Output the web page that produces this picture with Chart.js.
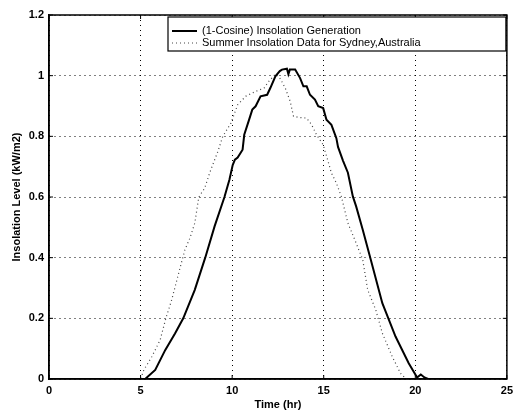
<!DOCTYPE html>
<html>
<head>
<meta charset="utf-8">
<script src="https://cdn.jsdelivr.net/npm/chart.js@4/dist/chart.umd.min.js"></script>
<style>
  body { margin: 0; background: #fff; }
  #wrap { width: 518px; height: 410px; }
</style>
</head>
<body>
<div id="wrap"><canvas id="chart" width="518" height="410"></canvas></div>
<script>
// (1-Cosine) insolation generation - time (hr) and level (kW/m2)
const cosineTime = [0, 5.25, 5.8, 6.35, 6.88, 7.33, 7.96, 8.53, 9.04, 9.58, 9.85, 10.03, 10.15, 10.3, 10.57, 10.66, 10.9, 11.1, 11.28, 11.55, 11.91, 12.09, 12.36, 12.6, 12.72, 12.99, 13.07, 13.15, 13.44, 13.71, 13.89, 14.07, 14.25, 14.52, 14.7, 14.97, 15.15, 15.42, 15.69, 15.78, 16.05, 16.32, 16.59, 16.77, 17.13, 17.57, 18.2, 18.92, 19.64, 20.1, 20.3, 20.5, 20.7, 24];
const cosineLevel = [0, 0, 0.03, 0.096, 0.15, 0.2, 0.294, 0.4, 0.503, 0.6, 0.657, 0.705, 0.723, 0.73, 0.756, 0.805, 0.85, 0.888, 0.899, 0.932, 0.937, 0.96, 0.998, 1.015, 1.02, 1.023, 1.005, 1.02, 1.02, 0.992, 0.965, 0.965, 0.937, 0.921, 0.899, 0.893, 0.855, 0.838, 0.794, 0.765, 0.72, 0.68, 0.602, 0.569, 0.492, 0.393, 0.25, 0.14, 0.052, 0.005, 0.015, 0.005, 0, 0];

// summer insolation data for Sydney
const sydneyTime = [0, 5.0, 5.18, 5.62, 6.07, 6.38, 6.7, 7.15, 7.42, 7.69, 7.96, 8.18, 8.5, 8.77, 8.9, 9.22, 9.49, 9.94, 10.3, 10.74, 11.28, 11.74, 12.0, 12.36, 12.63, 12.9, 13.17, 13.35, 13.71, 14.07, 14.34, 14.61, 14.97, 15.24, 15.42, 15.69, 15.96, 16.32, 16.77, 17.13, 17.4, 17.84, 18.2, 18.74, 19.19, 19.5, 24];
const sydneyLevel = [0, 0, 0.03, 0.074, 0.129, 0.2, 0.261, 0.365, 0.426, 0.464, 0.514, 0.6, 0.629, 0.679, 0.7, 0.75, 0.8, 0.844, 0.904, 0.932, 0.948, 0.959, 0.981, 1.005, 0.99, 0.959, 0.915, 0.866, 0.862, 0.86, 0.838, 0.805, 0.772, 0.717, 0.679, 0.646, 0.602, 0.514, 0.448, 0.393, 0.294, 0.228, 0.151, 0.074, 0.019, 0, 0];

const xTicks = [0, 5, 10, 15, 20, 25];
const yTicks = [0, 0.2, 0.4, 0.6, 0.8, 1, 1.2];
const legendLabels = ['(1-Cosine) Insolation Generation', 'Summer Insolation Data for Sydney,Australia'];

function toPoints(xs, ys) {
    return xs.map((x, i) => ({ x: x, y: ys[i] }));
}

// frame on all four sides, inward ticks, and the boxed legend (MATLAB look)
const framePlugin = {
    id: 'frame',
    afterDraw(chart) {
        const ctx = chart.ctx;
        const a = chart.chartArea;
        const xs = chart.scales.x;
        const ys = chart.scales.y;
        ctx.save();
        ctx.strokeStyle = '#000';
        ctx.lineWidth = 1.5;
        ctx.setLineDash([]);
        ctx.strokeRect(a.left, a.top, a.right - a.left, a.bottom - a.top);

        ctx.lineWidth = 1;
        ctx.beginPath();
        xTicks.forEach(v => {
            const px = xs.getPixelForValue(v);
            ctx.moveTo(px, a.bottom); ctx.lineTo(px, a.bottom - 4);
            ctx.moveTo(px, a.top); ctx.lineTo(px, a.top + 4);
        });
        yTicks.forEach(v => {
            const py = ys.getPixelForValue(v);
            ctx.moveTo(a.left, py); ctx.lineTo(a.left + 4, py);
            ctx.moveTo(a.right, py); ctx.lineTo(a.right - 4, py);
        });
        ctx.stroke();

        // legend box
        const bx = 168, by = 17, bw = a.right - 1 - bx, bh = 34;
        ctx.fillStyle = '#fff';
        ctx.fillRect(bx, by, bw, bh);
        ctx.lineWidth = 1.2;
        ctx.strokeRect(bx, by, bw, bh);

        const rows = [by + 14, by + 26];
        ctx.lineWidth = 2;
        ctx.beginPath();
        ctx.moveTo(bx + 4, rows[0]); ctx.lineTo(bx + 29, rows[0]);
        ctx.stroke();
        ctx.lineWidth = 1;
        ctx.strokeStyle = '#444';
        ctx.setLineDash([1, 3]);
        ctx.beginPath();
        ctx.moveTo(bx + 4, rows[1]); ctx.lineTo(bx + 29, rows[1]);
        ctx.stroke();
        ctx.setLineDash([]);

        ctx.fillStyle = '#000';
        ctx.font = '11px "Liberation Sans", Arial, sans-serif';
        ctx.textBaseline = 'middle';
        ctx.textAlign = 'left';
        ctx.fillText(legendLabels[0], bx + 34, rows[0]);
        ctx.fillText(legendLabels[1], bx + 34, rows[1]);
        ctx.restore();
    }
};

const ctx = document.getElementById('chart').getContext('2d');
new Chart(ctx, {
    type: 'line',
    data: {
        datasets: [
            {
                label: legendLabels[0],
                data: toPoints(cosineTime, cosineLevel),
                borderColor: '#000',
                borderWidth: 2,
                pointRadius: 0,
                fill: false,
                tension: 0
            },
            {
                label: legendLabels[1],
                data: toPoints(sydneyTime, sydneyLevel),
                borderColor: '#444',
                borderWidth: 1.2,
                borderDash: [1, 3],
                pointRadius: 0,
                fill: false,
                tension: 0
            }
        ]
    },
    options: {
        responsive: false,
        animation: false,
        layout: { padding: { left: 0, right: 6, top: 15, bottom: 0 } },
        plugins: {
            legend: { display: false },
            tooltip: { enabled: false }
        },
        scales: {
            x: {
                type: 'linear',
                min: 0,
                max: 25,
                afterBuildTicks: s => { s.ticks = xTicks.map(v => ({ value: v })); },
                afterFit: s => { s.height = 31; },
                grid: { color: '#000', lineWidth: 1, drawTicks: false },
                border: { display: true, color: '#000', width: 1.5, dash: [1, 4] },
                ticks: {
                    padding: 5,
                    color: '#000',
                    maxRotation: 0,
                    font: { family: '"Liberation Sans", Arial, sans-serif', size: 11, weight: 'bold' }
                },
                title: {
                    display: true,
                    text: 'Time (hr)',
                    color: '#000',
                    padding: 0,
                    font: { family: '"Liberation Sans", Arial, sans-serif', size: 11, weight: 'bold', lineHeight: 1 }
                }
            },
            y: {
                type: 'linear',
                min: 0,
                max: 1.2,
                afterBuildTicks: s => { s.ticks = yTicks.map(v => ({ value: v })); },
                afterFit: s => { s.width = 49; },
                grid: { color: '#000', lineWidth: 1, drawTicks: false },
                border: { display: true, color: '#000', width: 1.5, dash: [1, 4] },
                ticks: {
                    padding: 5,
                    color: '#000',
                    callback: v => String(+Number(v).toFixed(1)),
                    font: { family: '"Liberation Sans", Arial, sans-serif', size: 11, weight: 'bold' }
                },
                title: {
                    display: true,
                    text: 'Insolation Level (kW/m2)',
                    color: '#000',
                    padding: { top: 11, bottom: 0 },
                    font: { family: '"Liberation Sans", Arial, sans-serif', size: 11, weight: 'bold', lineHeight: 1 }
                }
            }
        }
    },
    plugins: [framePlugin]
});
</script>
</body>
</html>
